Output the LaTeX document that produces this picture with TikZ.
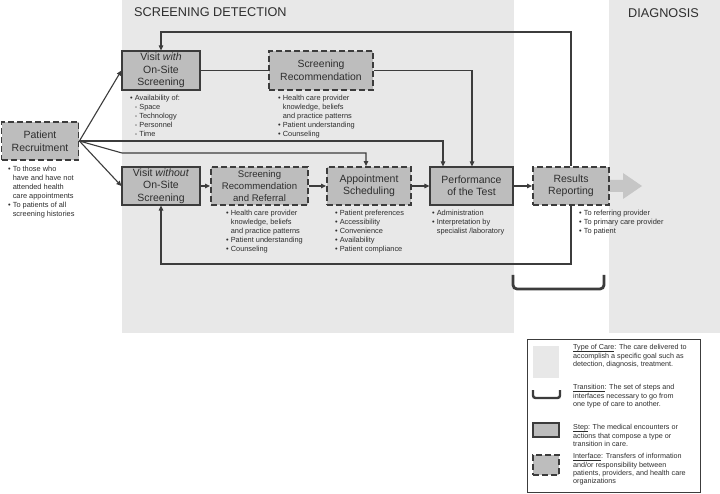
\documentclass[tikz,border=0pt]{standalone}
\usepackage{fontspec}
\setmainfont{Liberation Sans}
\usetikzlibrary{arrows.meta}
\definecolor{panel}{HTML}{E8E8E8}
\definecolor{boxfill}{HTML}{BDBDBD}
\definecolor{edgec}{HTML}{3C3C3C}
\definecolor{ink}{HTML}{2E2E2E}
\definecolor{bigarrow}{HTML}{C6C6C6}
\newcommand{\bul}{\makebox[4.6pt][l]{•}}
\newcommand{\ind}{\hspace*{4.6pt}}
\newcommand{\ulw}[1]{\underline{\raisebox{0pt}[\height][0pt]{#1}}}
\begin{document}
\begin{tikzpicture}[x=1pt,y=-1pt,
  stepbox/.style={draw=edgec, line width=1.2pt, fill=boxfill, inner sep=0pt, align=center, text=ink, font=\fontsize{10.5}{12.5}\selectfont},
  interfacebox/.style={stepbox, dash pattern=on 6pt off 3pt, line width=1.8pt},
  note/.style={anchor=north west, inner sep=0pt, align=left, text=ink, font=\fontsize{7.4}{9}\selectfont},
  legtext/.style={anchor=north west, inner sep=0pt, align=left, text=ink, font=\fontsize{7.2}{8.2}\selectfont},
  conn/.style={draw=edgec, line width=1.1pt},
  arr/.style={conn, -{Triangle[length=5pt,width=4.5pt]}},
  titletext/.style={anchor=west, inner sep=0pt, text=ink, font=\fontsize{12.7}{14}\selectfont},
]
\useasboundingbox (0,0) rectangle (720,494);
\fill[white] (0,0) rectangle (720,494);
% panels
\fill[panel] (122,0) rectangle (514,333);
\fill[panel] (609,0) rectangle (720,333);
\node[titletext] (t1) at (134,12.5) {SCREENING DETECTION};
\node[titletext] (t2) at (628,13) {DIAGNOSIS};

% big arrow
\fill[bigarrow] (600,180) -- (623,180) -- (623,173) -- (642,186) -- (623,199) -- (623,192) -- (600,192) -- cycle;

% nodes
\node[interfacebox, minimum width=77pt, minimum height=38pt] (pr) at (40,141) {Patient\\Recruitment};
\node[stepbox, minimum width=78pt, minimum height=39pt] (vw) at (161,70.5) {Visit \textit{with}\\On-Site\\Screening};
\node[interfacebox, minimum width=104pt, minimum height=39pt, font=\fontsize{10.4}{12.5}\selectfont] (sr) at (321,70.5) {Screening\\Recommendation};
\node[stepbox, minimum width=78pt, minimum height=38pt] (vwo) at (161,186) {Visit \textit{without}\\On-Site\\Screening};
\node[interfacebox, minimum width=97pt, minimum height=38pt, font=\fontsize{9.6}{11.7}\selectfont] (srr) at (259.5,186) {Screening\\Recommendation\\and Referral};
\node[interfacebox, minimum width=84pt, minimum height=38pt] (as) at (369,186) {Appointment\\Scheduling};
\node[stepbox, minimum width=83pt, minimum height=38pt] (pt) at (471.5,186) {Performance\\of the Test};
\node[interfacebox, minimum width=76pt, minimum height=38pt] (rr) at (571,186) {Results\\Reporting};

% coordinates
\coordinate (a1) at (443,141);
\coordinate (b1) at (122,153);
\coordinate (b2) at (366,153);
\coordinate (c1) at (472,70.5);
\coordinate (d1) at (571,32);
\coordinate (d2) at (161,32);
\coordinate (e1) at (571,264);
\coordinate (e2) at (161,264);

% connectors
\draw[arr] (pr.east) -- (vw.west);
\draw[arr] (pr.east) -- (vwo.west);
\draw[arr] (pr.east) -- (a1) -- (a1 |- pt.north);
\draw[arr] (pr.east) -- (b1) -- (b2) -- (b2 |- as.north);
\draw[conn] (vw.east) -- (sr.west);
\draw[arr] (sr.east) -- (c1) -- (c1 |- pt.north);
\draw[arr] (rr.north) -- (d1) -- (d2) -- (vw.north);
\draw[arr] (rr.south) -- (e1) -- (e2) -- (vwo.south);
\draw[arr] (vwo.east) -- (srr.west);
\draw[arr] (srr.east) -- (as.west);
\draw[arr] (as.east) -- (pt.west);
\draw[arr] (pt.east) -- (rr.west);

% notes
\node[note] (n1) at (8,165.5) {\bul To those who\\\ind have and have not\\\ind attended health\\\ind care appointments\\\bul To patients of all\\\ind screening histories};
\node[note] (n2) at (130,95.3) {\bul Availability of:\\\ind- Space\\\ind- Technology\\\ind- Personnel\\\ind- Time};
\node[note] (n3) at (278,95.3) {\bul Health care provider\\\ind knowledge, beliefs\\\ind and practice patterns\\\bul Patient understanding\\\bul Counseling};
\node[note] (n4) at (226,210.3) {\bul Health care provider\\\ind knowledge, beliefs\\\ind and practice patterns\\\bul Patient understanding\\\bul Counseling};
\node[note] (n5) at (335,210.3) {\bul Patient preferences\\\bul Accessibility\\\bul Convenience\\\bul Availability\\\bul Patient compliance};
\node[note] (n6) at (432,210.3) {\bul Administration\\\bul Interpretation by\\\ind specialist /laboratory};
\node[note] (n7) at (579,210.3) {\bul To referring provider\\\bul To primary care provider\\\bul To patient};

% transition bracket
\draw[draw=edgec, line width=2.8pt, rounded corners=4pt] (513,275) -- (513,289) -- (604,289) -- (604,275);

% legend
\draw[draw=edgec, line width=1pt] (527,339) rectangle (700,492);
\fill[panel] (533,346) rectangle (559,378);
\draw[draw=edgec, line width=2.4pt, rounded corners=2.5pt] (533,390) -- (533,398) -- (560,398) -- (560,390);
\node[stepbox, minimum width=26pt, minimum height=14pt] (ls) at (546,430) {};
\node[interfacebox, minimum width=26pt, minimum height=20pt] (li) at (546,465) {};
\node[legtext] (l1) at (573,344.5) {\ulw{Type of Care}: The care delivered to\\accomplish a specific goal such as\\detection, diagnosis, treatment.};
\node[legtext] (l2) at (573,384.5) {\ulw{Transition}: The set of steps and\\interfaces necessary to go from\\one type of care to another.};
\node[legtext] (l3) at (573,424.5) {\ulw{Step}: The medical encounters or\\actions that compose a type or\\transition in care.};
\node[legtext] (l4) at (573,453.5) {\ulw{Interface}: Transfers of information\\and/or responsibility between\\patients, providers, and health care\\organizations};
\end{tikzpicture}
\end{document}
